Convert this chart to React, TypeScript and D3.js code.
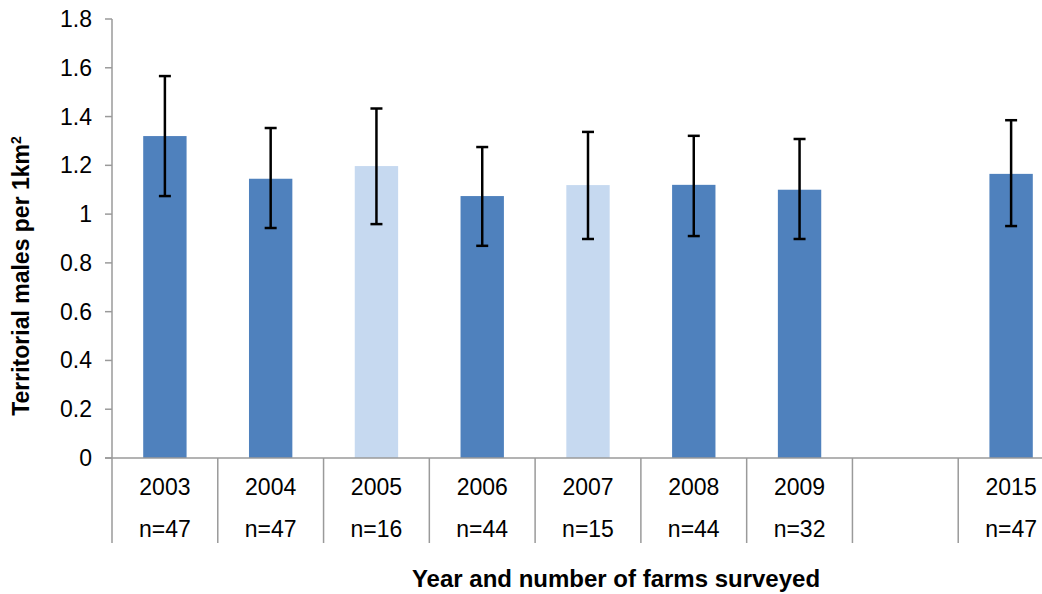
import React, { useEffect, useRef } from 'react';
import * as d3 from 'd3';

// slots on the x axis (the empty one is the gap between 2009 and 2015)
const years = ['2003', '2004', '2005', '2006', '2007', '2008', '2009', '', '2015'];
const farms = ['n=47', 'n=47', 'n=16', 'n=44', 'n=15', 'n=44', 'n=32', '', 'n=47'];
const density: (number | null)[] = [1.32, 1.145, 1.197, 1.074, 1.119, 1.12, 1.1, null, 1.165];
const errLow: (number | null)[] = [1.074, 0.943, 0.959, 0.87, 0.898, 0.91, 0.898, null, 0.951];
const errHigh: (number | null)[] = [1.566, 1.353, 1.433, 1.275, 1.337, 1.321, 1.308, null, 1.385];
const lightYears = ['2005', '2007'];
const yTicks = [0, 0.2, 0.4, 0.6, 0.8, 1, 1.2, 1.4, 1.6, 1.8];

const App = () => {
  const ref = useRef<SVGSVGElement>(null);

  useEffect(() => {
    draw();
  });

  const draw = () => {
    const svg = d3.select(ref.current);
    svg.selectAll('*').remove();

    const left = 112;
    const top = 19;
    const bottom = 458;
    const right = 1064; // the plot runs past the right edge of the picture
    const axisColor = '#9a9a9a';
    const font = 'Liberation Sans, Arial, sans-serif';

    const x = d3.scaleBand().domain(years).range([left, right]).padding(0);
    const y = d3.scaleLinear().domain([0, 1.8]).range([bottom, top]);
    const barW = x.bandwidth() * 0.41;

    const data = years.map((yr, i) => ({
      yr,
      v: density[i],
      lo: errLow[i],
      hi: errHigh[i],
    }));

    // bars
    svg
      .selectAll('.bar')
      .data(data.filter((d) => d.v !== null))
      .enter()
      .append('rect')
      .attr('class', 'bar')
      .attr('x', (d) => (x(d.yr) || 0) + x.bandwidth() / 2 - barW / 2)
      .attr('width', barW)
      .attr('y', (d) => y(d.v as number))
      .attr('height', (d) => bottom - y(d.v as number))
      .attr('fill', (d) => (lightYears.includes(d.yr) ? '#c6d9f0' : '#4f81bd'));

    // error bars
    const eb = svg
      .selectAll('.err')
      .data(data.filter((d) => d.v !== null))
      .enter()
      .append('g')
      .attr('class', 'err')
      .attr('transform', (d) => `translate(${(x(d.yr) || 0) + x.bandwidth() / 2},0)`);
    eb.append('line')
      .attr('y1', (d) => y(d.lo as number))
      .attr('y2', (d) => y(d.hi as number))
      .attr('stroke', '#000')
      .attr('stroke-width', 2.5);
    eb.selectAll('.cap')
      .data((d) => [d.lo as number, d.hi as number])
      .enter()
      .append('line')
      .attr('x1', -6)
      .attr('x2', 6)
      .attr('y1', (d) => y(d))
      .attr('y2', (d) => y(d))
      .attr('stroke', '#000')
      .attr('stroke-width', 2.5);

    // y axis
    svg.append('line')
      .attr('x1', left).attr('x2', left)
      .attr('y1', top).attr('y2', 543)
      .attr('stroke', axisColor).attr('stroke-width', 1.5);
    svg.selectAll('.ytick')
      .data(yTicks)
      .enter()
      .append('line')
      .attr('x1', left - 7).attr('x2', left)
      .attr('y1', (d) => y(d)).attr('y2', (d) => y(d))
      .attr('stroke', axisColor).attr('stroke-width', 1.5);
    svg.selectAll('.ylab')
      .data(yTicks)
      .enter()
      .append('text')
      .attr('x', 92)
      .attr('y', (d) => y(d) + 8)
      .attr('text-anchor', 'end')
      .style('font-family', font)
      .style('font-size', '23px')
      .attr('fill', '#000')
      .text((d) => String(d));

    // x axis and the category separators
    svg.append('line')
      .attr('x1', left - 7).attr('x2', 1042)
      .attr('y1', bottom).attr('y2', bottom)
      .attr('stroke', axisColor).attr('stroke-width', 1.5);
    svg.selectAll('.sep')
      .data(years.slice(1))
      .enter()
      .append('line')
      .attr('x1', (d) => x(d) || 0).attr('x2', (d) => x(d) || 0)
      .attr('y1', bottom).attr('y2', 543)
      .attr('stroke', axisColor).attr('stroke-width', 1.5);

    svg.selectAll('.yr')
      .data(years)
      .enter()
      .append('text')
      .attr('x', (d) => (x(d) || 0) + x.bandwidth() / 2)
      .attr('y', 495)
      .attr('text-anchor', 'middle')
      .style('font-family', font)
      .style('font-size', '23px')
      .text((d) => d);
    svg.selectAll('.nf')
      .data(farms)
      .enter()
      .append('text')
      .attr('x', (d, i) => (x(years[i]) || 0) + x.bandwidth() / 2)
      .attr('y', 537)
      .attr('text-anchor', 'middle')
      .style('font-family', font)
      .style('font-size', '23px')
      .text((d) => d);

    // axis titles
    svg.append('text')
      .attr('x', 616)
      .attr('y', 587)
      .attr('text-anchor', 'middle')
      .style('font-family', font)
      .style('font-size', '24px')
      .style('font-weight', 'bold')
      .text('Year and number of farms surveyed');

    const yl = svg.append('text')
      .attr('transform', 'translate(29,276) rotate(-90)')
      .attr('text-anchor', 'middle')
      .style('font-family', font)
      .style('font-size', '23px')
      .style('font-weight', 'bold');
    yl.append('tspan').text('Territorial males per 1km');
    yl.append('tspan').attr('dy', -8).style('font-size', '14px').text('2');
  };

  return (
    <svg
      ref={ref}
      width={1042}
      height={594}
      style={{ position: 'absolute', left: 0, top: 0, background: '#fff' }}
    />
  );
};

export default App;
